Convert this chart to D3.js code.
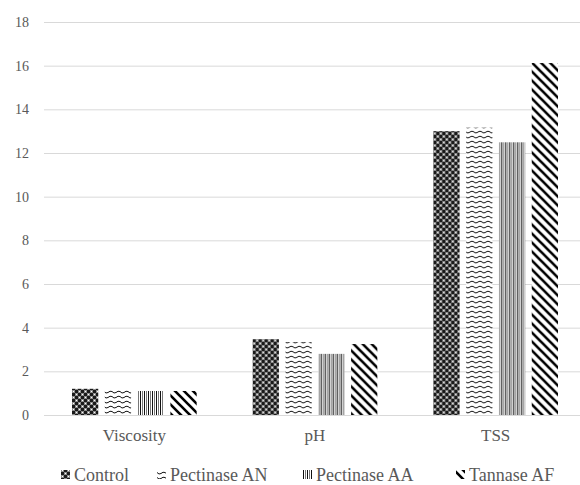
<!DOCTYPE html>
<html>
<head>
<meta charset="utf-8">
<script src="https://cdn.jsdelivr.net/npm/d3@7"></script>
<style>
  html, body { margin: 0; padding: 0; background: #fff; }
  svg { display: block; }
  svg text { font-family: "Liberation Serif", "Times New Roman", Tinos, "DejaVu Serif", serif; fill: #595959; }
</style>
</head>
<body>
<svg id="chart" width="580" height="485"></svg>
<script>
// Measured quantities and treatments
const categories = ["Viscosity", "pH", "TSS"];
const seriesNames = ["Control", "Pectinase AN", "Pectinase AA", "Tannase AF"];
const control     = [1.2, 3.47, 13.0];
const pectinaseAN = [1.18, 3.34, 13.16];
const pectinaseAA = [1.1, 2.8, 12.49];
const tannaseAF   = [1.1, 3.25, 16.12];
const yTicks = [0, 2, 4, 6, 8, 10, 12, 14, 16, 18];

const seriesValues = [control, pectinaseAN, pectinaseAA, tannaseAF];
const patternIds = ["pat-control", "pat-an", "pat-aa", "pat-af"];
const serif = "'Liberation Serif', 'Times New Roman', Tinos, 'DejaVu Serif', serif";

const svg = d3.select("#chart");
const defs = svg.append("defs");

// Control: dark checkered fill
{
  const p = defs.append("pattern").attr("id", "pat-control")
    .attr("patternUnits", "userSpaceOnUse").attr("width", 6).attr("height", 6);
  p.append("rect").attr("width", 6).attr("height", 6).attr("fill", "#1a1a1a");
  [[0,0],[3,3]].forEach(([x,y]) => p.append("rect").attr("x", x).attr("y", y)
    .attr("width", 3).attr("height", 3).attr("fill", "#8a8a8a"));
  [[1,1],[4,4]].forEach(([x,y]) => p.append("rect").attr("x", x).attr("y", y)
    .attr("width", 1).attr("height", 1).attr("fill", "#ffffff"));
}
// Pectinase AN: waves
{
  const p = defs.append("pattern").attr("id", "pat-an")
    .attr("patternUnits", "userSpaceOnUse").attr("width", 8).attr("height", 5);
  p.append("rect").attr("width", 8).attr("height", 5).attr("fill", "#fff");
  p.append("path").attr("d", "M0,1.5 Q2,4 4,2.5 Q6,0.5 8,1.5")
    .attr("fill", "none").attr("stroke", "#111").attr("stroke-width", 1);
}
// Pectinase AA: vertical stripes
{
  const p = defs.append("pattern").attr("id", "pat-aa")
    .attr("patternUnits", "userSpaceOnUse").attr("width", 4).attr("height", 4);
  p.append("rect").attr("width", 4).attr("height", 4).attr("fill", "#fff");
  p.append("rect").attr("x", 0).attr("width", 1).attr("height", 4).attr("fill", "#111");
  p.append("rect").attr("x", 2).attr("width", 1).attr("height", 4).attr("fill", "#777");
}
// Tannase AF: wide downward diagonals
{
  const s = 9;
  const p = defs.append("pattern").attr("id", "pat-af")
    .attr("patternUnits", "userSpaceOnUse").attr("width", s).attr("height", s);
  p.append("rect").attr("width", s).attr("height", s).attr("fill", "#fff");
  p.append("path")
    .attr("d", `M-2,-2 L${s+2},${s+2} M-2,${s-2} L2,${s+2} M${s-2},-2 L${s+2},2`)
    .attr("stroke", "#000").attr("stroke-width", 2.6);
}

const margin = { left: 44, right: -6, top: 22 };
const width = 580;

const x0 = d3.scaleBand().domain(categories)
  .range([margin.left, width - margin.right])
  .paddingInner(0.31).paddingOuter(0.155);
const x1 = d3.scaleBand().domain(seriesNames)
  .range([0, x0.bandwidth()]).paddingInner(0.2);
const y = d3.scaleLinear().domain([0, 18]).range([415, margin.top]);

// Gridlines
svg.append("g").selectAll("line").data(yTicks).join("line")
  .attr("x1", margin.left).attr("x2", width)
  .attr("y1", d => y(d) + 0.5).attr("y2", d => y(d) + 0.5)
  .attr("stroke", "#d9d9d9").attr("stroke-width", 1);

// Y tick labels
const yAxis = d3.axisLeft(y).tickValues(yTicks).tickSize(0).tickPadding(0);
const gy = svg.append("g").attr("transform", "translate(29,0)").call(yAxis)
  .attr("font-family", null);
gy.select(".domain").remove();
gy.selectAll("text").attr("font-size", 14).style("font-family", serif).style("fill", "#595959");

// Bars
categories.forEach((cat, ci) => {
  const g = svg.append("g").attr("transform", `translate(${x0(cat)},0)`);
  g.selectAll("rect").data(seriesNames).join("rect")
    .attr("x", s => x1(s))
    .attr("width", x1.bandwidth())
    .attr("y", (s, si) => y(seriesValues[si][ci]))
    .attr("height", (s, si) => y(0) - y(seriesValues[si][ci]))
    .attr("fill", (s, si) => `url(#${patternIds[si]})`);
});

// Category labels
const xAxis = d3.axisBottom(x0).tickSize(0).tickPadding(0);
const gx = svg.append("g").attr("transform", "translate(0,429)").call(xAxis)
  .attr("font-family", null);
gx.select(".domain").remove();
gx.selectAll("text").attr("font-size", 17).style("font-family", serif).style("fill", "#595959");

// Legend
const legendMarkX = [61, 157, 303, 456];
const leg = svg.append("g");
seriesNames.forEach((name, i) => {
  const g = leg.append("g").attr("transform", `translate(${legendMarkX[i]},481)`);
  g.append("rect").attr("x", 0).attr("y", -11).attr("width", 9).attr("height", 9)
    .attr("fill", `url(#${patternIds[i]})`);
  g.append("text").attr("x", 13).attr("y", 0)
    .attr("font-size", 18).style("font-family", serif).text(name);
});
</script>
</body>
</html>
